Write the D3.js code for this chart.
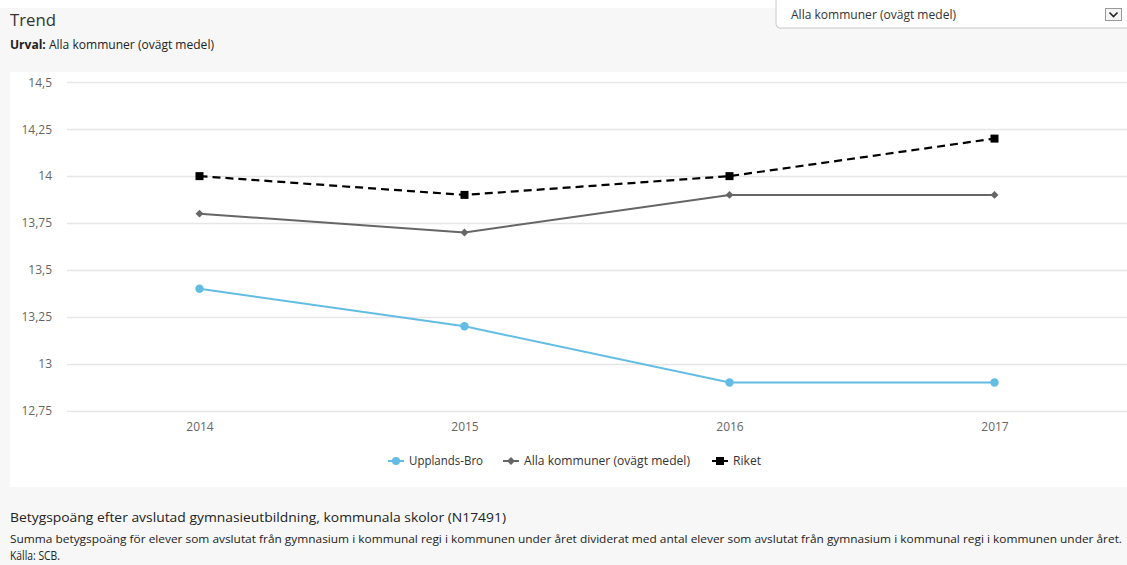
<!DOCTYPE html>
<html><head><meta charset="utf-8">
<script src="https://cdn.jsdelivr.net/npm/d3@7"></script>
<style>
html,body{margin:0;padding:0;background:#f7f7f7;}
svg{display:block;font-family:"Open Sans","DejaVu Sans",sans-serif;}
</style></head>
<body><svg id="c" width="1127" height="565"></svg>
<script>
const years = ["2014","2015","2016","2017"];
const upplandsBro = [13.4, 13.2, 12.9, 12.9];
const allaKommuner = [13.8, 13.7, 13.9, 13.9];
const riket = [14.0, 13.9, 14.0, 14.2];
const yTicks = [12.75, 13, 13.25, 13.5, 13.75, 14, 14.25, 14.5];
const seriesNames = ["Upplands-Bro", "Alla kommuner (ovägt medel)", "Riket"];

const svg = d3.select("#c");
const W = 1127, H = 565;

// backgrounds
svg.append("rect").attr("x",0).attr("y",0).attr("width",W).attr("height",H).attr("fill","#f7f7f7");
svg.append("rect").attr("x",0).attr("y",0).attr("width",W).attr("height",8).attr("fill","#ffffff");
svg.append("rect").attr("x",10).attr("y",72).attr("width",W-10).attr("height",415).attr("fill","#ffffff");

// header
svg.append("text").attr("x",10).attr("y",26).attr("font-size",17).attr("fill","#333")
  .attr("textLength",46).attr("lengthAdjust","spacingAndGlyphs").text("Trend");
const urv = svg.append("text").attr("x",10).attr("y",49).attr("font-size",12).attr("fill","#222")
  .attr("textLength",204).attr("lengthAdjust","spacingAndGlyphs");
urv.append("tspan").attr("font-weight","bold").text("Urval:");
urv.append("tspan").text(" Alla kommuner (ovägt medel)");

// dropdown
svg.append("path").attr("d",`M776,-1 L776,24 Q776,28 780,28 L1128,28 L1128,-1`)
  .attr("fill","#fff").attr("stroke","#c8c8c8");
svg.append("text").attr("x",791).attr("y",19).attr("font-size",12.5).attr("fill","#333")
  .attr("textLength",165).attr("lengthAdjust","spacingAndGlyphs").text("Alla kommuner (ovägt medel)");
svg.append("rect").attr("x",1105.5).attr("y",8.5).attr("width",16).attr("height",12).attr("fill","#f4f4f4").attr("stroke","#999");
svg.append("path").attr("d","M1109.5,12.5 L1113.5,16.5 L1117.5,12.5").attr("fill","none").attr("stroke","#222").attr("stroke-width",1.6);

// scales
const x = d3.scalePoint().domain(years).range([67, 1127]).padding(0.5);
const y = d3.scaleLinear().domain([12.75, 14.5]).range([410.7, 82.3]);

// grid
const yAxis = d3.axisLeft(y).tickValues(yTicks).tickSize(0).tickPadding(0)
  .tickFormat(d => String(d).replace(".", ","));
const gy = svg.append("g").attr("transform","translate(52,0)").call(yAxis);
gy.select(".domain").remove();
gy.selectAll("text").attr("font-size",12).attr("fill","#666").attr("font-family","'Open Sans',sans-serif");
svg.append("g").selectAll("line").data(yTicks).join("line")
  .attr("x1",67).attr("x2",W).attr("y1",d=>Math.round(y(d))+0.5).attr("y2",d=>Math.round(y(d))+0.5)
  .attr("stroke","#e6e6e6").attr("stroke-width",1.5);

const xAxis = d3.axisBottom(x).tickSize(0).tickPadding(0);
const gx = svg.append("g").attr("transform","translate(0,422)").call(xAxis);
gx.select(".domain").remove();
gx.selectAll("text").attr("font-size",12).attr("fill","#666").attr("font-family","'Open Sans',sans-serif");

const line = d3.line().x((d,i)=>x(years[i])).y(d=>y(d));

// Upplands-Bro
svg.append("path").datum(upplandsBro).attr("d",line).attr("fill","none").attr("stroke","#63bde3").attr("stroke-width",2);
svg.append("g").selectAll("circle").data(upplandsBro).join("circle")
  .attr("cx",(d,i)=>x(years[i])).attr("cy",d=>y(d)).attr("r",4.2).attr("fill","#63bde3");

// Alla kommuner
svg.append("path").datum(allaKommuner).attr("d",line).attr("fill","none").attr("stroke","#666").attr("stroke-width",2);
const diamond = d3.symbol().type(d3.symbolDiamond2).size(40);
svg.append("g").selectAll("path").data(allaKommuner).join("path")
  .attr("transform",(d,i)=>`translate(${x(years[i])},${y(d)})`).attr("d",diamond).attr("fill","#666");

// Riket
svg.append("path").datum(riket).attr("d",line).attr("fill","none").attr("stroke","#000").attr("stroke-width",2.2).attr("stroke-dasharray","8,5");
svg.append("g").selectAll("rect").data(riket).join("rect")
  .attr("x",(d,i)=>x(years[i])-4).attr("y",d=>y(d)-4).attr("width",8).attr("height",8).attr("fill","#000");

// legend
const legend = [
  {name: seriesNames[0], sx: 388, tx: 409, tw: 74, color:"#63bde3", type:"circle"},
  {name: seriesNames[1], sx: 503, tx: 524, tw: 166, color:"#666", type:"diamond"},
  {name: seriesNames[2], sx: 712, tx: 733, tw: 28, color:"#000", type:"square"}
];
const ly = 461;
legend.forEach(l => {
  const g = svg.append("g");
  if (l.type === "square") {
    g.append("line").attr("x1",l.sx).attr("x2",l.sx+16).attr("y1",ly).attr("y2",ly).attr("stroke",l.color).attr("stroke-width",2).attr("stroke-dasharray","4,2");
    g.append("rect").attr("x",l.sx+4).attr("y",ly-4).attr("width",8).attr("height",8).attr("fill",l.color);
  } else {
    g.append("line").attr("x1",l.sx).attr("x2",l.sx+16).attr("y1",ly).attr("y2",ly).attr("stroke",l.color).attr("stroke-width",2);
    if (l.type === "circle") g.append("circle").attr("cx",l.sx+8).attr("cy",ly).attr("r",4).attr("fill",l.color);
    else g.append("path").attr("transform",`translate(${l.sx+8},${ly})`).attr("d",diamond).attr("fill",l.color);
  }
  g.append("text").attr("x",l.tx).attr("y",ly+4).attr("font-size",12.5).attr("fill","#333")
    .attr("textLength",l.tw).attr("lengthAdjust","spacingAndGlyphs").text(l.name);
});

// footer
svg.append("text").attr("x",10).attr("y",522).attr("font-size",13.5).attr("fill","#222")
  .attr("textLength",496).attr("lengthAdjust","spacingAndGlyphs")
  .text("Betygspoäng efter avslutad gymnasieutbildning, kommunala skolor (N17491)");
svg.append("text").attr("x",10).attr("y",543).attr("font-size",11.5).attr("fill","#222")
  .attr("textLength",1112).attr("lengthAdjust","spacingAndGlyphs")
  .text("Summa betygspoäng för elever som avslutat från gymnasium i kommunal regi i kommunen under året dividerat med antal elever som avslutat från gymnasium i kommunal regi i kommunen under året.");
svg.append("text").attr("x",10).attr("y",560).attr("font-size",12.5).attr("fill","#222")
  .attr("textLength",50).attr("lengthAdjust","spacingAndGlyphs").text("Källa: SCB.");
</script></body></html>
